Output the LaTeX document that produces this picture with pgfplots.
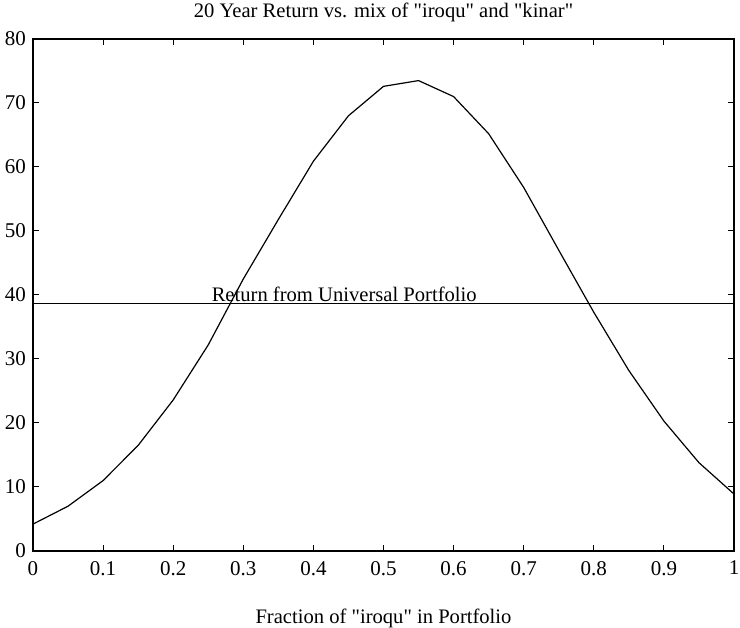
\documentclass[border=0pt]{standalone}
\usepackage{pgfplots}
\pgfplotsset{compat=1.18}
\usetikzlibrary{calc}
\usepackage{fontspec}
\setmainfont{Liberation Serif}
\begin{document}
\begin{tikzpicture}
\begin{axis}[
  scale only axis,
  width=350.5pt, height=256pt,
  xmin=0, xmax=1, ymin=0, ymax=80,
  xtick={0,0.1,...,1.0}, ytick={0,10,...,80},
  xticklabels={0,0.1,0.2,0.3,0.4,0.5,0.6,0.7,0.8,0.9,1},
  tick align=inside,
  major tick length=3pt,
  /pgf/number format/assume math mode=true,
  tick label style={font=\fontsize{10.5}{12}\selectfont},
  xticklabel style={yshift=-1.5pt},
  title={20 Year Return vs. mix of \textquotedbl iroqu\textquotedbl{} and \textquotedbl kinar\textquotedbl},
  title style={font=\fontsize{10.3}{12}\selectfont, yshift=-1pt},
  xlabel={Fraction of \textquotedbl iroqu\textquotedbl{} in Portfolio},
  xlabel style={font=\fontsize{10.3}{12}\selectfont, yshift=-10pt},
  axis line style={line width=0.6pt},
  every tick/.style={black, line width=0.5pt},
]
\addplot[black, line width=0.6pt] coordinates {
(0,4.2) (0.05,7.0) (0.1,11.0) (0.15,16.5) (0.2,23.6) (0.25,32.2) (0.3,42.5)
(0.35,51.8) (0.4,60.9) (0.45,68.0) (0.5,72.6) (0.55,73.5) (0.6,71.0)
(0.65,65.2) (0.7,56.8) (0.75,47.0) (0.8,37.3) (0.85,28.2) (0.9,20.3)
(0.95,13.8) (1.0,8.9)};
\addplot[black, line width=0.6pt] coordinates {(0,38.7) (1,38.7)};
\node[anchor=south west, inner sep=0.5pt, font=\fontsize{10.3}{12}\selectfont] at (axis cs:0.253,38.7) {Return from Universal Portfolio};
\end{axis}
\pgfresetboundingbox
\path ($(current axis.south west)+(-16.5pt,-38.5pt)$) rectangle ($(current axis.north east)+(3pt,19.5pt)$);
\end{tikzpicture}
\end{document}
